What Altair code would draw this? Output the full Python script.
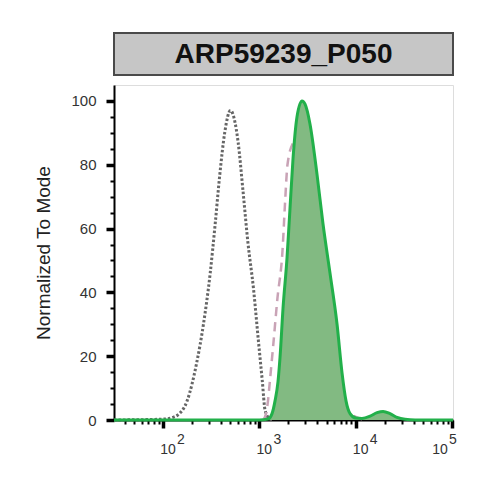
import altair as alt
import pandas as pd

TITLE = "ARP59239_P050"
Y_TITLE = "Normalized To Mode"

# Gray dotted histogram (control)
gray_x = [31, 105, 126, 141, 178, 224, 263, 309, 347, 389, 437, 501, 603, 676, 759, 871, 977, 1072, 1148, 1288, 1400]
gray_y = [0, 0.3, 0.8, 1.5, 6, 18, 30, 46, 61, 77, 90, 97, 87, 72, 56, 41, 25, 12.5, 3, 0.3, 0]

# Pink dashed histogram (mostly hidden behind the green one)
pink_x = [1096, 1175, 1230, 1290, 1400, 1540, 1740, 1849, 1960, 2250, 2800, 3300, 3800, 4467, 5623, 7079, 8913, 12590]
pink_y = [0, 2, 6, 12.5, 24, 38, 53, 68, 80, 87, 90, 86, 72, 52, 28, 9, 2, 0]

# Green filled histogram (sample)
green_x = [31, 1000, 1230, 1355, 1456, 1563, 1641, 1762, 1941, 2084, 2239, 2460, 2773, 2985, 3357, 3972,
           4581, 5420, 6412, 7228, 7943, 8750, 10090, 11640, 14120, 16690, 19270, 22750, 26900, 32580, 41400, 102500]
green_y = [0, 0, 0.3, 2, 6, 12, 19.7, 35, 51, 66.5, 82, 95, 100, 99, 92.8, 77,
           61.5, 46, 30, 14.7, 6, 2, 0.6, 0.5, 1.2, 2.3, 2.7, 2, 0.8, 0.2, 0, 0]

y_ticks = list(range(0, 101, 5))
x_major = [100, 1000, 10000, 100000]
x_exponents = ["2", "3", "4", "5"]
x_ticks = sorted(set([m * 10 ** k for k in range(1, 5) for m in range(1, 10) if 31 <= m * 10 ** k <= 100000] + [100000]))

W, H = 339, 335
FONT = "Liberation Sans"

gray_df = pd.DataFrame({"x": gray_x, "y": gray_y})
pink_df = pd.DataFrame({"x": pink_x, "y": pink_y})
green_df = pd.DataFrame({"x": green_x, "y": green_y})
title_df = pd.DataFrame({"t": [TITLE]})
xlab_df = pd.DataFrame({"x": x_major, "base": ["10"] * len(x_major), "exp": x_exponents})

major_list = "[" + ",".join(str(v) for v in x_major) + "]"
x_major_test = f"indexof({major_list}, datum.value) >= 0"

x_axis = alt.Axis(
    values=x_ticks,
    labels=False,
    tickSize={"condition": {"test": x_major_test, "value": 8}, "value": 4},
    tickWidth={"condition": {"test": x_major_test, "value": 3.5}, "value": 2},
    tickColor="#000",
    domainColor="#000",
    domainWidth=2,
    grid=False,
    title=None,
)

y_major_test = "datum.value % 20 === 0"
y_axis = alt.Axis(
    values=y_ticks,
    labelExpr=f"{y_major_test} ? datum.label : ''",
    tickSize={"condition": {"test": y_major_test, "value": 8}, "value": 4},
    tickWidth={"condition": {"test": y_major_test, "value": 3.5}, "value": 2},
    tickColor="#000",
    domainColor="#000",
    domainWidth=2,
    labelFont=FONT,
    labelFontSize=15,
    labelColor="#333",
    labelPadding=10,
    labelOverlap=False,
    grid=False,
    title=Y_TITLE,
    titleFont=FONT,
    titleFontSize=19,
    titleFontWeight="normal",
    titleColor="#222",
    titlePadding=17,
)

xscale = alt.Scale(type="log", domain=[31, 102500], nice=False)
xenc = alt.X("x:Q", scale=xscale, axis=x_axis)
yenc = alt.Y("y:Q", scale=alt.Scale(domain=[0, 105], nice=False, zero=False), axis=y_axis)

gray = alt.Chart(gray_df).mark_line(
    color="#666666", strokeWidth=3, strokeDash=[2.5, 2], interpolate="monotone"
).encode(x=xenc, y=yenc)

pink = alt.Chart(pink_df).mark_line(
    color="#c9a3b6", strokeWidth=2.5, strokeDash=[9, 6], interpolate="monotone"
).encode(x=xenc, y=yenc)

green = alt.Chart(green_df).mark_area(
    color="#82ba82", opacity=1, interpolate="monotone",
    line={"color": "#22b04a", "strokeWidth": 3},
).encode(x=xenc, y=yenc)

# x tick labels as 10 with raised exponent
lab_base = alt.Chart(xlab_df).transform_filter("datum.x < 100000").mark_text(
    font=FONT, fontSize=14, color="#333", align="center", baseline="middle", dx=5
).encode(x=alt.X("x:Q", scale=xscale), y=alt.value(H + 30), text="base:N")
lab_exp = alt.Chart(xlab_df).transform_filter("datum.x < 100000").mark_text(
    font=FONT, fontSize=14, color="#333", align="center", baseline="middle", dx=18
).encode(x=alt.X("x:Q", scale=xscale), y=alt.value(H + 20), text="exp:N")
lab_base_last = alt.Chart(xlab_df).transform_filter("datum.x >= 100000").mark_text(
    font=FONT, fontSize=14, color="#333", align="center", baseline="middle", dx=-12
).encode(x=alt.X("x:Q", scale=xscale), y=alt.value(H + 30), text="base:N")
lab_exp_last = alt.Chart(xlab_df).transform_filter("datum.x >= 100000").mark_text(
    font=FONT, fontSize=14, color="#333", align="center", baseline="middle", dx=1
).encode(x=alt.X("x:Q", scale=xscale), y=alt.value(H + 20), text="exp:N")

box = alt.Chart(title_df).mark_rect(
    fill="#c6c6c6", stroke="#4a4a4a", strokeWidth=2
).encode(x=alt.value(0), x2=alt.value(W), y=alt.value(-52), y2=alt.value(-10))

box_text = alt.Chart(title_df).mark_text(
    font=FONT, fontSize=28, fontWeight="bold", color="#111", align="center", baseline="middle"
).encode(x=alt.value(W / 2), y=alt.value(-30), text="t:N")

chart = alt.layer(gray, pink, green, lab_base, lab_exp, lab_base_last, lab_exp_last, box, box_text).properties(
    width=W, height=H,
    autosize=alt.AutoSizeParams(type="none"),
    padding={"left": 106, "top": 77, "right": 25, "bottom": 50},
).configure_view(stroke="#333", strokeWidth=1.5).configure(background="white")

chart.save("out.html", embed_options={"renderer": "svg", "actions": False})
